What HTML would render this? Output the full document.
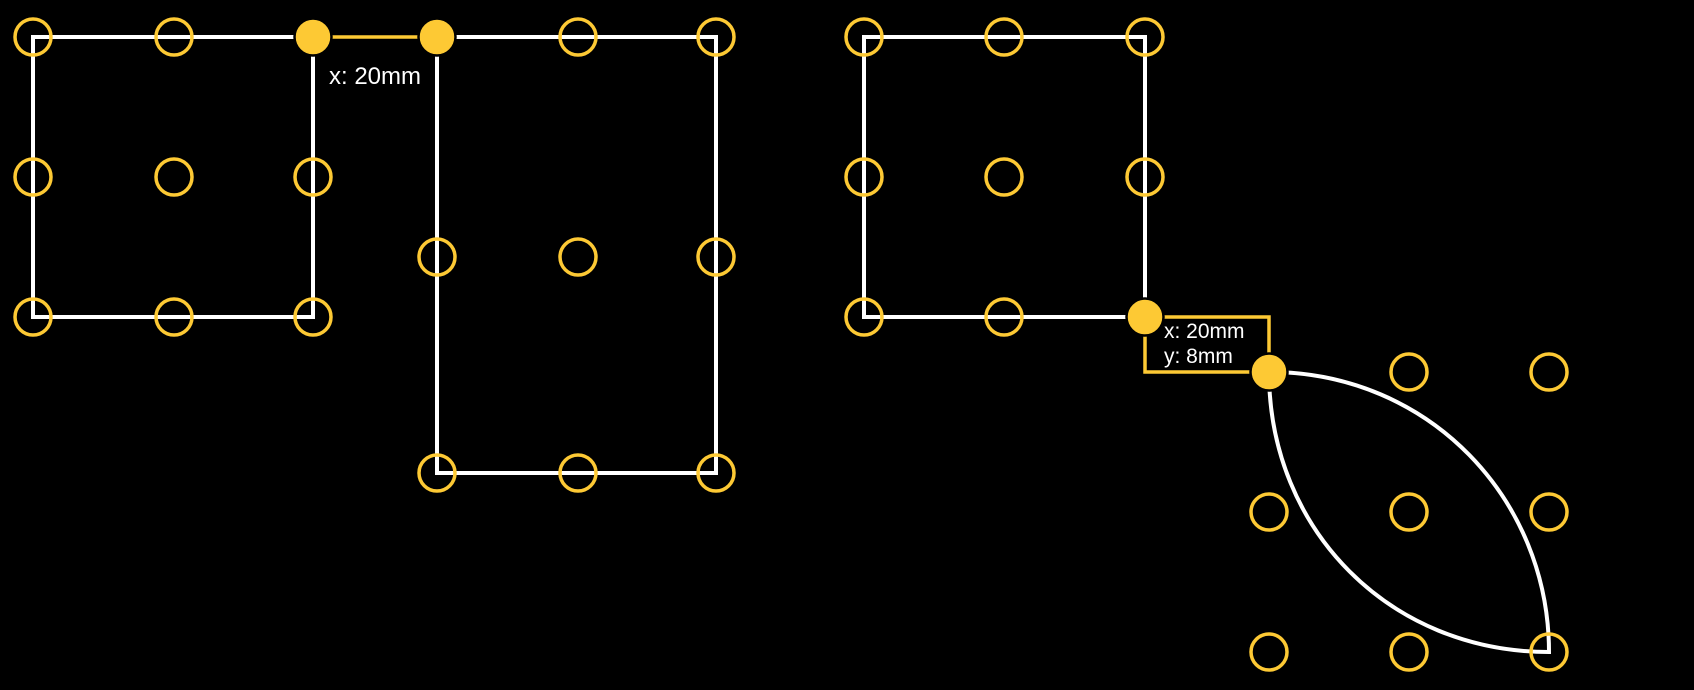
<!DOCTYPE html>
<html><head><meta charset="utf-8"><style>
html,body{margin:0;padding:0;background:#000;}
svg{display:block;}
text{font-family:"Liberation Sans",sans-serif;fill:#fff;}
</style></head><body>
<svg width="1694" height="690" viewBox="0 0 1694 690" xmlns="http://www.w3.org/2000/svg">
<rect width="1694" height="690" fill="#000"/>
<g fill="none" stroke="#fff" stroke-width="4">
  <path d="M313 37 H33 V317 H313 V37"/>
  <path d="M437 37 H716 V473 H437 Z"/>
  <path d="M1145 317 H864 V37 H1145 Z"/>
  <path d="M1269 372 C1430 372 1549 500 1549 652 C1390 652 1269 530 1269 372 Z"/>
</g>
<g fill="none" stroke="#fdc934" stroke-width="3.5">
  <line x1="313" y1="37" x2="437" y2="37"/>
  <rect x="1145" y="317" width="124" height="55"/>
</g>
<g fill="none" stroke="#fdc934" stroke-width="3.5">
  <circle cx="33" cy="37" r="18"/><circle cx="174" cy="37" r="18"/>
  <circle cx="33" cy="177" r="18"/><circle cx="174" cy="177" r="18"/><circle cx="313" cy="177" r="18"/>
  <circle cx="33" cy="317" r="18"/><circle cx="174" cy="317" r="18"/><circle cx="313" cy="317" r="18"/>
  <circle cx="578" cy="37" r="18"/><circle cx="716" cy="37" r="18"/>
  <circle cx="437" cy="257" r="18"/><circle cx="578" cy="257" r="18"/><circle cx="716" cy="257" r="18"/>
  <circle cx="437" cy="473" r="18"/><circle cx="578" cy="473" r="18"/><circle cx="716" cy="473" r="18"/>
  <circle cx="864" cy="37" r="18"/><circle cx="1004" cy="37" r="18"/><circle cx="1145" cy="37" r="18"/>
  <circle cx="864" cy="177" r="18"/><circle cx="1004" cy="177" r="18"/><circle cx="1145" cy="177" r="18"/>
  <circle cx="864" cy="317" r="18"/><circle cx="1004" cy="317" r="18"/>
  <circle cx="1409" cy="372" r="18"/><circle cx="1549" cy="372" r="18"/>
  <circle cx="1269" cy="512" r="18"/><circle cx="1409" cy="512" r="18"/><circle cx="1549" cy="512" r="18"/>
  <circle cx="1269" cy="652" r="18"/><circle cx="1409" cy="652" r="18"/><circle cx="1549" cy="652" r="18"/>
</g>
<g fill="#fdc934" stroke="#000" stroke-width="2.5">
  <circle cx="313" cy="37" r="18.5"/><circle cx="437" cy="37" r="18.5"/>
  <circle cx="1145" cy="317" r="18.5"/><circle cx="1269" cy="372" r="18.5"/>
</g>
<text x="329" y="84" font-size="24">x: 20mm</text>
<text x="1164" y="338" font-size="21">x: 20mm</text>
<text x="1164" y="363" font-size="21">y: 8mm</text>
</svg>
</body></html>
